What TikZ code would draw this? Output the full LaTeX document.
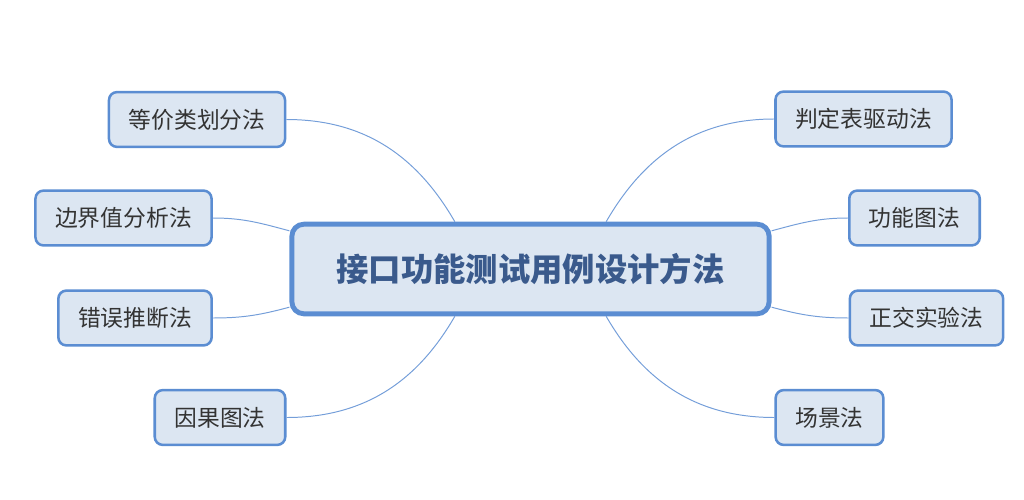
\documentclass[tikz,border=0pt]{standalone}
\usepackage{fontspec}
\setmainfont{Noto Sans CJK SC}
\usepackage{xcolor}
\usepackage{tikz}

\definecolor{boxfill}{HTML}{DCE6F2}
\definecolor{boxline}{HTML}{5B8DD2}
\definecolor{hubtext}{HTML}{3A5A8C}
\definecolor{leaftext}{HTML}{333333}

\begin{document}
\begin{tikzpicture}[
    x=0.025cm, y=-0.025cm,
    hub/.style={rectangle, draw=boxline, fill=boxfill, line width=3.5pt, rounded corners=0.3cm, inner xsep=31.7pt, minimum height=2.24cm, font=\fontsize{23}{26}\selectfont\bfseries, text=hubtext},
    leaf/.style={rectangle, draw=boxline, fill=boxfill, line width=1.8pt, rounded corners=0.2cm, inner xsep=14pt, minimum height=1.37cm, font=\fontsize{16.2}{19}\selectfont, text=leaftext},
    link/.style={draw=boxline!85, line width=0.7pt}
]
\useasboundingbox (0,0) rectangle (1024,499);

\node [hub] (topic) at (530.5,269) {接口功能测试用例设计方法};

% left side
\node [leaf] (equiv) at (197,119.5) {等价类划分法};
\node [leaf] (bound) at (123.5,218) {边界值分析法};
\node [leaf] (guess) at (135,318) {错误推断法};
\node [leaf] (cause) at (220,417.5) {因果图法};

% right side
\node [leaf] (table) at (863.5,119) {判定表驱动法};
\node [leaf] (func) at (914.5,218) {功能图法};
\node [leaf] (ortho) at (926.5,318) {正交实验法};
\node [leaf] (scene) at (829.5,417.5) {场景法};

\draw [link] (topic.148) to[out=120, in=0] (equiv.east);
\draw [link] (topic.171) to[out=165, in=0] (bound.east);
\draw [link] (topic.189) to[out=195, in=0] (guess.east);
\draw [link] (topic.212) to[out=240, in=0] (cause.east);

\draw [link] (topic.32) to[out=60, in=180] (table.west);
\draw [link] (topic.9) to[out=15, in=180] (func.west);
\draw [link] (topic.351) to[out=-15, in=180] (ortho.west);
\draw [link] (topic.328) to[out=-60, in=180] (scene.west);

\end{tikzpicture}
\end{document}
